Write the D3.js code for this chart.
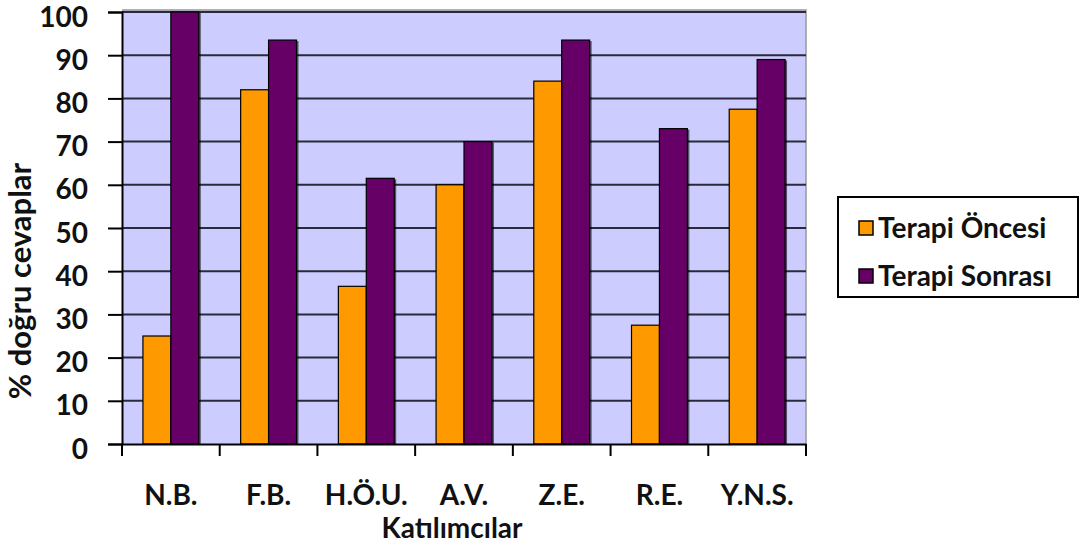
<!DOCTYPE html>
<html><head><meta charset="utf-8">
<script src="https://cdn.jsdelivr.net/npm/d3@7"></script>
<style>body{margin:0;background:#fff}svg{display:block}</style>
</head><body>
<svg id="c" width="1080" height="552"></svg>
<script>
const categories = ["N.B.", "F.B.", "H.Ö.U.", "A.V.", "Z.E.", "R.E.", "Y.N.S."];
const seriesNames = ["Terapi Öncesi", "Terapi Sonrası"];
const before = [25, 82, 36.5, 60, 84, 27.5, 77.5];
const after = [100, 93.5, 61.5, 70, 93.5, 73, 89];
const yTicks = [0, 10, 20, 30, 40, 50, 60, 70, 80, 90, 100];
const colors = ["#FF9900", "#660066"];

const svg = d3.select("#c");
const L = 122, R = 806, T = 12, B = 444;
const font = "Lato, 'Open Sans', sans-serif";
const x = d3.scaleBand().domain(categories).range([L, R]).paddingInner(0).paddingOuter(0);
const inner = x.bandwidth() / 3.5 * 2;
const x1 = d3.scaleBand().domain(seriesNames).range([0, inner]);
const y = d3.scaleLinear().domain([0, 100]).range([B, T]);

// background
svg.append("rect").attr("x", L).attr("y", T - 2).attr("width", R - L).attr("height", B - T + 2).attr("fill", "#CCCCFF");
// border top/right
svg.append("path").attr("d", `M${L},${T-2}H${R}V${B}`).attr("fill", "none").attr("stroke", "#999").attr("stroke-width", 1.5);

// gridlines
svg.append("g").selectAll("line").data(yTicks.filter(d => d > 0)).join("line")
  .attr("x1", L).attr("x2", R).attr("y1", d => y(d)).attr("y2", d => y(d))
  .attr("stroke", "#2a2a3a").attr("stroke-width", 2);

// bars
const data = categories.map((c, i) => ({c, vals: [before[i], after[i]]}));
const g = svg.append("g").selectAll("g").data(data).join("g")
  .attr("transform", d => `translate(${x(d.c) + (x.bandwidth() - inner) / 2},0)`);
g.selectAll("rect.sh").data(d => d.vals.map((v, k) => ({v, k}))).join("rect").attr("class", "sh")
  .attr("x", d => x1(seriesNames[d.k]) + 2).attr("y", d => y(d.v) + 1)
  .attr("width", x1.bandwidth()).attr("height", d => B - y(d.v) - 1)
  .attr("fill", "#000").attr("opacity", 0.6);
g.selectAll("rect.b").data(d => d.vals.map((v, k) => ({v, k}))).join("rect").attr("class", "b")
  .attr("x", d => x1(seriesNames[d.k])).attr("y", d => y(d.v))
  .attr("width", x1.bandwidth()).attr("height", d => B - y(d.v))
  .attr("fill", d => colors[d.k]).attr("stroke", "#000").attr("stroke-width", 1.2);

// axes
const yAxis = svg.append("g").attr("transform", `translate(${L},0)`)
  .call(d3.axisLeft(y).tickValues(yTicks).tickSize(14).tickPadding(20));
yAxis.select(".domain").attr("stroke", "#000").attr("stroke-width", 2);
yAxis.selectAll(".tick line").attr("stroke", "#000").attr("stroke-width", 2);
yAxis.selectAll("text").attr("font-family", font).attr("font-weight", 700).attr("font-size", 28)
  .attr("fill", "#111").attr("dy", "0.5em");

const xAxis = svg.append("g").attr("transform", `translate(0,${B})`)
  .call(d3.axisBottom(x).tickSize(0).tickPadding(41));
xAxis.select(".domain").attr("stroke", "#000").attr("stroke-width", 2);
xAxis.selectAll("text").attr("font-family", font).attr("font-weight", 700).attr("font-size", 28).attr("fill", "#111");
svg.append("g").selectAll("line").data(d3.range(categories.length + 1)).join("line")
  .attr("x1", i => L + i * x.bandwidth()).attr("x2", i => L + i * x.bandwidth())
  .attr("y1", B).attr("y2", B + 12).attr("stroke", "#000").attr("stroke-width", 2);

// axis titles
svg.append("text").attr("x", 452).attr("y", 538).attr("text-anchor", "middle")
  .attr("font-family", font).attr("font-weight", 700).attr("font-size", 28).attr("fill", "#111").text("Katılımcılar");
svg.append("text").attr("transform", "translate(31,281) rotate(-90)").attr("text-anchor", "middle")
  .attr("font-family", font).attr("font-weight", 700).attr("font-size", 31).attr("fill", "#111").text("% doğru cevaplar");

// legend
const lg = svg.append("g");
lg.append("rect").attr("x", 838).attr("y", 197).attr("width", 240).attr("height", 100)
  .attr("fill", "#fff").attr("stroke", "#000").attr("stroke-width", 2);
seriesNames.forEach((s, i) => {
  const yy = 228 + i * 48;
  lg.append("rect").attr("x", 859).attr("y", yy - 7).attr("width", 14).attr("height", 14)
    .attr("fill", colors[i]).attr("stroke", "#000").attr("stroke-width", 1.5);
  lg.append("text").attr("x", 878).attr("y", yy + 10).attr("font-family", font).attr("font-weight", 700)
    .attr("font-size", 28).attr("fill", "#111").text(s);
});
</script>
</body></html>
